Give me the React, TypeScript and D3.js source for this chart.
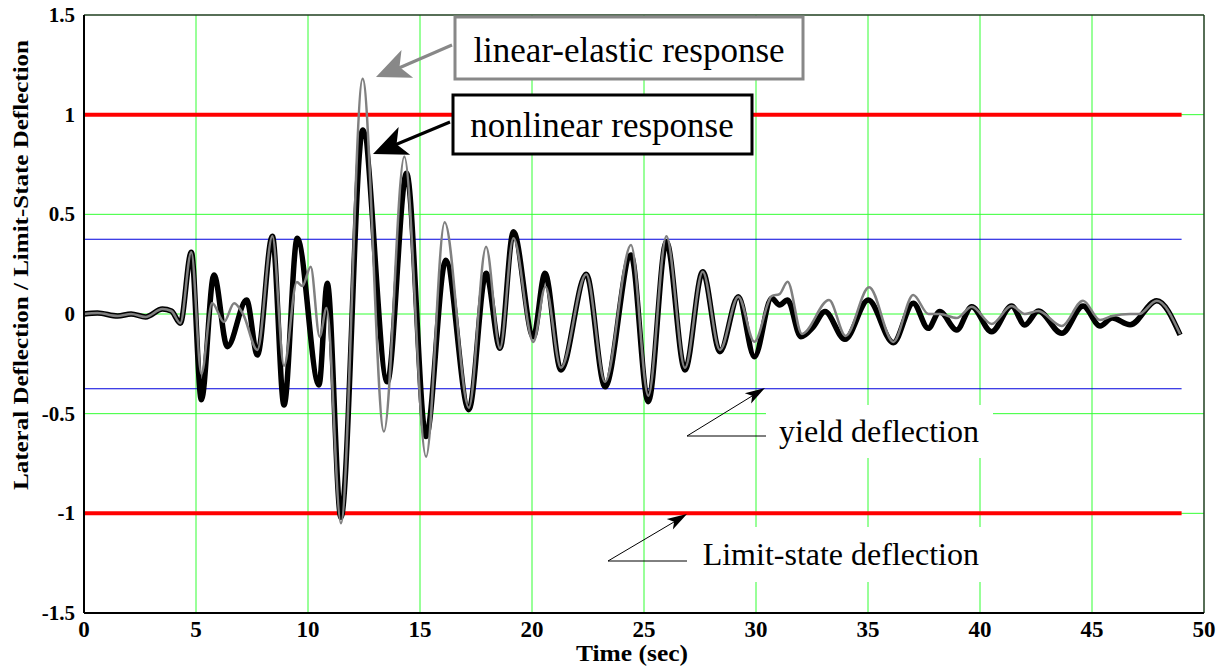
import React from "react";
import { scaleLinear, line, curveMonotoneX } from "d3";

// nonlinear response (thick black)
const nonlinearT = [0, 0.6, 1.5, 2.1, 2.75, 3.5, 3.9, 4.3, 4.79, 5.24, 5.8, 6.4, 7.26, 7.74, 8.41, 8.93, 9.52, 10.49, 10.86, 11.47, 12.44, 13.54, 14.4, 15.27, 16.15, 17.18, 17.95, 18.57, 19.17, 20.06, 20.58, 21.29, 22.42, 23.26, 24.42, 25.19, 26.0, 26.83, 27.62, 28.39, 29.21, 29.93, 30.7, 31.05, 31.41, 32.0, 32.56, 33.08, 33.97, 35.01, 36.13, 37.02, 37.69, 38.2, 38.96, 39.63, 40.52, 41.41, 42.0, 42.6, 43.65, 44.6, 45.36, 45.9, 46.7, 47.89, 48.93];
const nonlinearV = [0, 0.005, -0.01, 0, -0.015, 0.025, 0.015, -0.046, 0.31, -0.43, 0.196, -0.164, 0.07, -0.206, 0.39, -0.457, 0.38, -0.356, 0.154, -1.02, 0.923, -0.34, 0.706, -0.615, 0.27, -0.48, 0.204, -0.172, 0.413, -0.114, 0.204, -0.281, 0.2, -0.365, 0.296, -0.44, 0.363, -0.281, 0.212, -0.189, 0.087, -0.214, 0.079, 0.045, 0.07, -0.114, -0.064, 0.012, -0.127, 0.07, -0.144, 0.054, -0.072, 0.012, -0.08, 0.037, -0.089, 0.04, -0.055, 0.015, -0.097, 0.04, -0.06, -0.02, -0.054, 0.067, -0.105];

// linear-elastic response (thin grey)
const elasticT = [0, 0.6, 1.5, 2.1, 2.75, 3.5, 3.9, 4.3, 4.79, 5.24, 5.72, 6.25, 6.7, 7.1, 7.74, 8.41, 8.93, 9.5, 9.75, 10.12, 10.52, 10.83, 11.47, 12.44, 13.39, 14.3, 15.27, 16.1, 17.18, 17.95, 18.57, 19.17, 20.06, 20.6, 21.29, 22.42, 23.26, 24.42, 25.19, 26.0, 26.83, 27.62, 28.39, 29.21, 29.93, 30.7, 31.05, 31.41, 32.05, 33.26, 34.0, 35.05, 36.13, 37.02, 37.7, 38.2, 38.96, 39.63, 40.52, 41.41, 42.0, 42.6, 43.65, 44.6, 45.36, 45.9, 46.7, 47.1, 47.89, 48.93];
const elasticV = [0, 0.005, -0.01, 0, -0.015, 0.025, 0.015, -0.046, 0.31, -0.3, 0.055, -0.04, 0.054, 0.0, -0.18, 0.39, -0.26, 0.16, 0.14, 0.237, -0.114, 0.03, -1.05, 1.18, -0.59, 0.79, -0.716, 0.46, -0.47, 0.338, -0.172, 0.38, -0.14, 0.137, -0.27, 0.2, -0.34, 0.346, -0.41, 0.39, -0.27, 0.212, -0.18, 0.087, -0.139, 0.09, 0.1, 0.162, -0.1, 0.07, -0.11, 0.134, -0.14, 0.095, 0.0, 0.0, -0.02, 0.037, -0.05, 0.04, 0.0, 0.015, -0.06, 0.067, -0.03, -0.01, 0.0, 0.0, 0.067, -0.1];

const xTicks = [0, 5, 10, 15, 20, 25, 30, 35, 40, 45, 50];
const yTicks = [-1.5, -1, -0.5, 0, 0.5, 1, 1.5];
const yTickLabels = ["-1.5", "-1", "-0.5", "0", "0.5", "1", "1.5"];
const limitLevels = [1, -1];
const yieldLevels = [0.375, -0.375];
const lineEnd = 49;

const W = 1224, H = 668;
const margin = { top: 15, right: 20, bottom: 55, left: 84 };
const serif = "'Liberation Serif', 'Times New Roman', serif";

function arrowHead(x1: number, y1: number, x2: number, y2: number, len: number, half: number) {
    const a = Math.atan2(y2 - y1, x2 - x1);
    const c = Math.cos(a), s = Math.sin(a);
    const bx = x2 - len * c, by = y2 - len * s;
    const nx = x2 - len * 0.75 * c, ny = y2 - len * 0.75 * s;
    return `${x2},${y2} ${bx + half * s},${by - half * c} ${nx},${ny} ${bx - half * s},${by + half * c}`;
}

export default function App() {
    const x = scaleLinear().domain([0, 50]).range([margin.left, W - margin.right]);
    const y = scaleLinear().domain([-1.5, 1.5]).range([H - margin.bottom, margin.top]);

    const myLine = line<[number, number]>()
        .x(d => x(d[0]))
        .y(d => y(d[1]))
        .curve(curveMonotoneX);

    const nonlinear = nonlinearT.map((t, i) => [t, nonlinearV[i]] as [number, number]);
    const elastic = elasticT.map((t, i) => [t, elasticV[i]] as [number, number]);

    const x0 = x(0), x1 = x(50), y0 = y(-1.5), y1 = y(1.5);

    return (
        <svg width={W} height={H} style={{ position: "absolute", left: 0, top: 0, background: "#fff" }}>
            {/* grid */}
            {xTicks.slice(1, -1).map(t => (
                <line key={"gx" + t} x1={x(t)} x2={x(t)} y1={y1} y2={y0} stroke="#33ff33" strokeWidth={1} />
            ))}
            {yTicks.slice(1, -1).map(t => (
                <line key={"gy" + t} x1={x0} x2={x1} y1={y(t)} y2={y(t)} stroke="#33ff33" strokeWidth={1} />
            ))}
            {/* limit & yield levels */}
            {yieldLevels.map(v => (
                <line key={"yl" + v} x1={x0} x2={x(lineEnd)} y1={y(v)} y2={y(v)} stroke="#0000dd" strokeWidth={1} />
            ))}
            {limitLevels.map(v => (
                <line key={"ll" + v} x1={x0} x2={x(lineEnd)} y1={y(v)} y2={y(v)} stroke="#ff0000" strokeWidth={4} />
            ))}
            {/* responses */}
            <path d={myLine(nonlinear) || ""} fill="none" stroke="#000" strokeWidth={5.5} strokeLinejoin="round" />
            <path d={myLine(elastic) || ""} fill="none" stroke="#808080" strokeWidth={2.5} strokeLinejoin="round" />

            {/* frame */}
            <line x1={x0} x2={x1} y1={y1} y2={y1} stroke="#1f3f1f" strokeWidth={1.5} />
            <line x1={x1} x2={x1} y1={y1} y2={y0} stroke="#1f3f1f" strokeWidth={1.5} />
            <line x1={x0} x2={x0} y1={y1} y2={y0} stroke="#000" strokeWidth={2} />
            <line x1={x0} x2={x1} y1={y0} y2={y0} stroke="#000" strokeWidth={2} />

            {/* tick labels */}
            {yTicks.map((t, i) => (
                <text key={"yt" + t} x={x0 - 9} y={y(t) + 7} textAnchor="end" fontFamily={serif} fontWeight="bold" fontSize={21}>{yTickLabels[i]}</text>
            ))}
            {xTicks.map(t => (
                <text key={"xt" + t} x={x(t)} y={y0 + 24} textAnchor="middle" fontFamily={serif} fontWeight="bold" fontSize={23}>{t}</text>
            ))}
            <text x={632} y={661} textAnchor="middle" fontFamily={serif} fontWeight="bold" fontSize={24} textLength={112} lengthAdjust="spacingAndGlyphs">Time (sec)</text>
            <text transform="translate(28,265) rotate(-90)" textAnchor="middle" fontFamily={serif} fontWeight="bold" fontSize={22} textLength={450} lengthAdjust="spacingAndGlyphs">Lateral Deflection / Limit-State Deflection</text>

            {/* linear-elastic annotation */}
            <line x1={452} y1={45} x2={392} y2={71} stroke="#888" strokeWidth={3} />
            <polygon points={arrowHead(452, 45, 376, 77, 34, 15)} fill="#888" />
            <rect x={455} y={17} width={348} height={62} fill="#fff" stroke="#888" strokeWidth={3} />
            <text x={629} y={62} textAnchor="middle" fontFamily={serif} fontSize={35}>linear-elastic response</text>

            {/* nonlinear annotation */}
            <line x1={450} y1={122} x2={390} y2={147} stroke="#000" strokeWidth={3} />
            <polygon points={arrowHead(450, 122, 373, 154, 34, 15)} fill="#000" />
            <rect x={453} y={95} width={299} height={59} fill="#fff" stroke="#000" strokeWidth={3} />
            <text x={602} y={137} textAnchor="middle" fontFamily={serif} fontSize={35}>nonlinear response</text>

            {/* yield deflection */}
            <rect x={766} y={405} width={227} height={53} fill="#fff" />
            <polyline points="766,436 687,436 757,393" fill="none" stroke="#000" strokeWidth={1} />
            <polygon points={arrowHead(687, 436, 765, 388, 20, 6)} fill="#000" />
            <text x={979} y={442} textAnchor="end" fontFamily={serif} fontSize={32}>yield deflection</text>

            {/* limit-state deflection */}
            <rect x={690} y={527} width={303} height={55} fill="#fff" />
            <polyline points="687,561 608,561 679,519" fill="none" stroke="#000" strokeWidth={1} />
            <polygon points={arrowHead(608, 561, 687, 514, 20, 6)} fill="#000" />
            <text x={979} y={565} textAnchor="end" fontFamily={serif} fontSize={32}>Limit-state deflection</text>
        </svg>
    );
}
